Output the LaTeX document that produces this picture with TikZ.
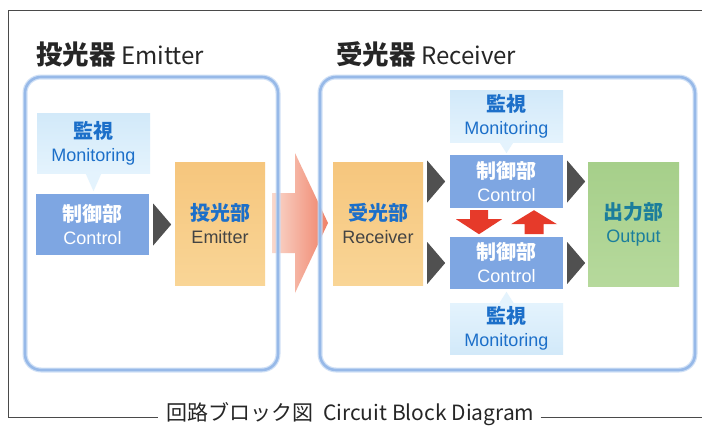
\documentclass[tikz,border=0pt]{standalone}
\usepackage{fontspec}
\setmainfont{Liberation Sans}
\newfontfamily\jp{Noto Sans CJK JP}
\usetikzlibrary{calc}
\definecolor{framegray}{HTML}{4A4A4A}
\definecolor{bordblue}{HTML}{8DB3E6}
\definecolor{bordblueL}{HTML}{C9DCF5}
\definecolor{monfill}{HTML}{D2E9F9}
\definecolor{monfillB}{HTML}{E4F3FD}
\definecolor{montext}{HTML}{1C6FC9}
\definecolor{ctlblue}{HTML}{7EA6E2}
\definecolor{orangeT}{HTML}{F6C67D}
\definecolor{orangeB}{HTML}{F9D596}
\definecolor{greenT}{HTML}{A6CF8A}
\definecolor{greenB}{HTML}{B6D99C}
\definecolor{outtext}{HTML}{1B7E9C}
\definecolor{darktext}{HTML}{444444}
\definecolor{trigray}{HTML}{505050}
\definecolor{redarr}{HTML}{E63A2A}
\definecolor{salmonL}{HTML}{FAD8CC}
\definecolor{salmonR}{HTML}{EF8168}
\begin{document}
\begin{tikzpicture}[x=1pt,y=-1pt,
  box/.style={rectangle, inner sep=0pt, align=center, font=\fontsize{18}{23}\selectfont},
  monbox/.style={box, top color=monfill, bottom color=monfillB, minimum width=113pt, text=montext},
  ctlbox/.style={box, fill=ctlblue, text=white, minimum width=113pt},
  unitbox/.style={box, top color=orangeT, bottom color=orangeB, minimum width=90pt, minimum height=123pt},
  outbox/.style={box, top color=greenT, bottom color=greenB, minimum width=91pt, minimum height=124pt, text=outtext},
  grtri/.style={fill=trigray},
  redblock/.style={fill=redarr},
  groupframe/.style={rounded corners=16pt},
]
\useasboundingbox (0,0) rectangle (702,426);
\fill[white] (0,0) rectangle (702,426);

% big transmission arrow
\shade[left color=salmonL, right color=salmonR]
  (272,193) -- (295,193) -- (295,153) -- (328,223) -- (295,293) -- (295,253) -- (272,253) -- cycle;

% group frames
\foreach \w/\c in {5/bordblueL, 2.6/bordblue}{
  \draw[groupframe, line width=\w pt, draw=\c, opacity=0.85] (25,77) rectangle (278,370);
  \draw[groupframe, line width=\w pt, draw=\c, opacity=0.85] (320,77) rectangle (695,370);
}

% titles
\node[anchor=west, inner sep=0pt, text=black!85] (t1) at (36,54)
  {{\jp\bfseries\fontsize{26.5}{28}\selectfont 投光器}\hspace{0.55em}{\jp\fontsize{24}{28}\selectfont Emitter}};
\node[anchor=west, inner sep=0pt, text=black!85] (t2) at (336,54)
  {{\jp\bfseries\fontsize{26.5}{28}\selectfont 受光器}\hspace{0.55em}{\jp\fontsize{24}{28}\selectfont Receiver}};

% emitter side
\node[monbox, minimum height=60pt] (mon1) at (93.5,143)
  {{\jp\bfseries\fontsize{20}{23}\selectfont 監視}\\Monitoring};
\fill[monfillB] ($(mon1.south)+(-8,0)$) -- ($(mon1.south)+(8,0)$) -- ($(mon1.south)+(0,18)$) -- cycle;
\node[ctlbox, minimum height=61pt] (ctl1) at (92.5,224.5)
  {{\jp\bfseries\fontsize{20}{23}\selectfont 制御部}\\Control};
\node[unitbox] (emit) at (220,223.5)
  {{\jp\bfseries\fontsize{20}{23}\selectfont\color{montext}投光部}\\{\color{darktext}Emitter}};

% receiver side
\node[unitbox] (rec) at (378,223.5)
  {{\jp\bfseries\fontsize{20}{23}\selectfont\color{montext}受光部}\\{\color{darktext}Receiver}};
\node[ctlbox, minimum height=53pt] (ctlU) at (506.5,181.5)
  {{\jp\bfseries\fontsize{20}{23}\selectfont 制御部}\\Control};
\node[ctlbox, minimum height=52pt] (ctlL) at (506.5,263)
  {{\jp\bfseries\fontsize{20}{23}\selectfont 制御部}\\Control};
\node[monbox, minimum height=52pt] (monU) at (506.5,116)
  {{\jp\bfseries\fontsize{20}{23}\selectfont 監視}\\Monitoring};
\fill[monfillB] ($(monU.south)+(-7,0)$) -- ($(monU.south)+(7,0)$) -- ($(monU.south)+(0,11)$) -- cycle;
\node[monbox, minimum height=51pt, top color=monfillB, bottom color=monfill] (monL) at (506.5,328.5)
  {{\jp\bfseries\fontsize{20}{23}\selectfont 監視}\\Monitoring};
\fill[monfillB] ($(monL.north)+(-7,0)$) -- ($(monL.north)+(7,0)$) -- ($(monL.north)+(0,-11)$) -- cycle;
\node[outbox] (out) at (633.5,224)
  {{\jp\bfseries\fontsize{20}{23}\selectfont 出力部}\\Output};

% gray triangle connectors
\coordinate (a1) at (ctl1.east);
\coordinate (a2) at (rec.east |- ctlU.west);
\coordinate (a3) at (rec.east |- ctlL.west);
\coordinate (a4) at (ctlU.east);
\coordinate (a5) at (ctlL.east);
\foreach \c in {a1,a2,a3,a4,a5}
  \fill[grtri] ($(\c)+(4,-21)$) -- ($(\c)+(22,0)$) -- ($(\c)+(4,21)$) -- cycle;

% red block arrows between the two control units
\begin{scope}[shift={(ctlU.south)}]
  \fill[redblock] (-36.5,2) -- (-18.5,2) -- (-18.5,11) -- (-4.5,11) -- (-27.5,26)
    -- (-50.5,11) -- (-36.5,11) -- cycle;
  \fill[redblock] (27.5,2) -- (50.5,16) -- (37,16) -- (37,26) -- (18,26) -- (18,16)
    -- (4.5,16) -- cycle;
\end{scope}

% outer frame and caption
\node[inner sep=0pt, text=black!85] (cap) at (350.5,414)
  {\jp\fontsize{21}{24}\selectfont 回路ブロック図\hspace{0.45em}Circuit Block Diagram};
\draw[framegray, line width=0.8pt] (702,10) -- (8,10) -- (8,417) -- ($(cap.west |- 8,417)+(-8,0)$);
\draw[framegray, line width=0.8pt] ($(cap.east |- 8,417)+(6,0)$) -- (702,417);
\end{tikzpicture}
\end{document}
